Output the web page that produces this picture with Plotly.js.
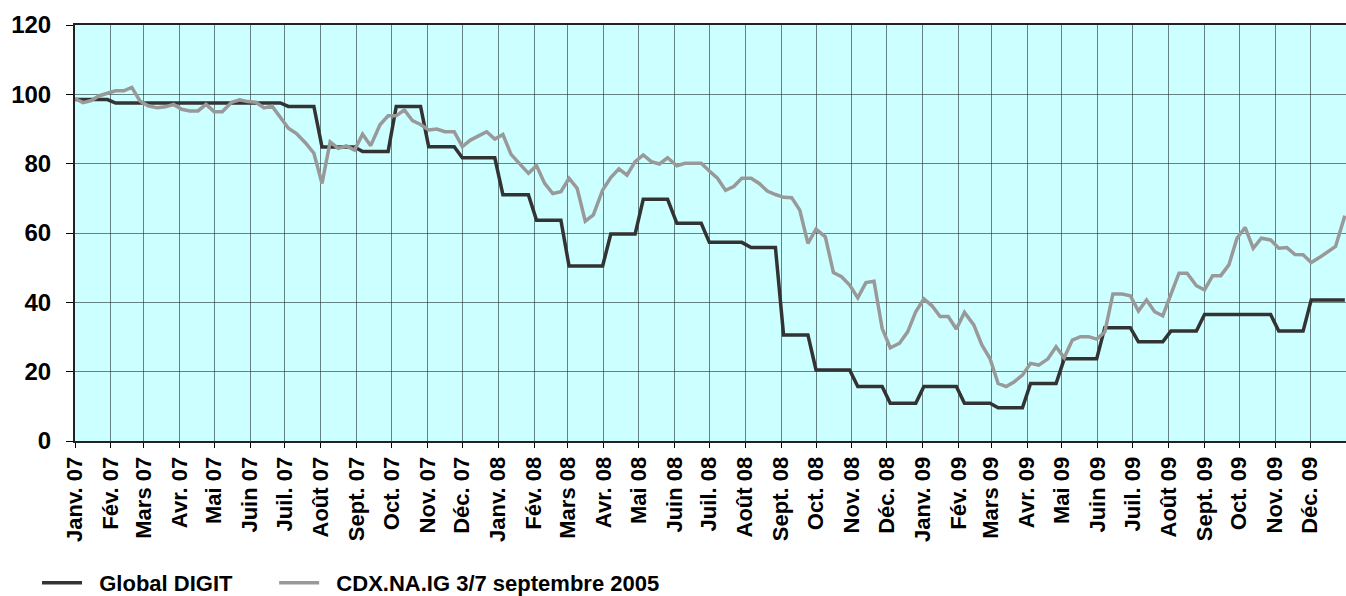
<!DOCTYPE html>
<html>
<head>
<meta charset="utf-8">
<script src="https://cdn.plot.ly/plotly-3.0.1.min.js"></script>
<style>
  html, body { margin: 0; padding: 0; background: #ffffff; }
  #chart { width: 1346px; height: 596px; }
</style>
</head>
<body>
<div id="chart"></div>
<script>
// Month tick labels (month starts Jan 2007 .. Dec 2009)
const monthLabels = [
  "Janv. 07","Fév. 07","Mars 07","Avr. 07","Mai 07","Juin 07","Juil. 07","Août 07","Sept. 07","Oct. 07","Nov. 07","Déc. 07",
  "Janv. 08","Fév. 08","Mars 08","Avr. 08","Mai 08","Juin 08","Juil. 08","Août 08","Sept. 08","Oct. 08","Nov. 08","Déc. 08",
  "Janv. 09","Fév. 09","Mars 09","Avr. 09","Mai 09","Juin 09","Juil. 09","Août 09","Sept. 09","Oct. 09","Nov. 09","Déc. 09"
];
const monthStarts = [
  "2007-01-01","2007-02-01","2007-03-01","2007-04-01","2007-05-01","2007-06-01","2007-07-01","2007-08-01","2007-09-01","2007-10-01","2007-11-01","2007-12-01",
  "2008-01-01","2008-02-01","2008-03-01","2008-04-01","2008-05-01","2008-06-01","2008-07-01","2008-08-01","2008-09-01","2008-10-01","2008-11-01","2008-12-01",
  "2009-01-01","2009-02-01","2009-03-01","2009-04-01","2009-05-01","2009-06-01","2009-07-01","2009-08-01","2009-09-01","2009-10-01","2009-11-01","2009-12-01"
];
const yTicks = [0, 20, 40, 60, 80, 100, 120];

// Global DIGIT: one level per month
const digitMonthly = [
  98.5, 97.5, 97.5, 97.5, 97.5, 97.5, 96.5, 84.8, 83.5, 96.5, 84.9, 81.7,
  71.0, 63.7, 50.5, 59.7, 69.7, 62.8, 57.3, 55.8, 30.6, 20.5, 15.7, 10.9,
  15.7, 10.9, 9.6, 16.6, 23.7, 32.7, 28.6, 31.7, 36.5, 36.5, 31.7, 40.7
];

// CDX.NA.IG 3/7 septembre 2005: weekly observations, Jan 2007 .. Dec 2009
const cdxWeekly = [
  98.8, 97.6, 98.2, 99.6, 100.3, 101.0, 101.0, 102.0, 98.1, 96.7,
  96.1, 96.4, 97.1, 95.7, 95.2, 95.2, 97.1, 95.0, 95.0, 97.7,
  98.4, 97.9, 97.7, 96.1, 96.6, 93.6, 90.2, 88.7, 85.9, 83.0,
  74.3, 86.3, 84.4, 85.1, 83.9, 88.5, 85.2, 91.2, 93.8, 93.8,
  95.5, 92.4, 91.3, 89.7, 90.0, 89.2, 89.2, 84.9, 86.8, 88.0,
  89.2, 87.1, 88.4, 82.7, 80.1, 77.2, 79.4, 74.3, 71.4, 71.9,
  75.8, 72.9, 63.4, 65.2, 72.4, 76.0, 78.5, 76.7, 80.6, 82.5,
  80.6, 79.9, 81.7, 79.4, 80.1, 80.1, 80.1, 77.9, 75.8, 72.3,
  73.4, 75.8, 75.8, 74.3, 72.1, 71.1, 70.3, 70.2, 66.6, 57.0,
  61.1, 58.9, 48.6, 47.4, 45.0, 41.3, 45.7, 46.1, 32.5, 26.9,
  28.2, 31.5, 37.3, 41.0, 39.0, 35.9, 35.9, 32.3, 37.1, 33.5,
  27.7, 23.8, 16.6, 15.7, 17.1, 19.0, 22.4, 21.9, 23.7, 27.2,
  24.0, 29.1, 30.1, 30.1, 29.4, 31.4, 42.4, 42.4, 41.9, 37.5,
  40.7, 37.3, 36.1, 42.3, 48.4, 48.4, 44.8, 43.6, 47.7, 47.7,
  50.8, 58.5, 61.6, 55.6, 58.5, 58.0, 55.6, 55.8, 53.8, 53.7,
  51.5, 52.9, 54.6, 56.1, 65.0
];

const periodStart = "2007-01-01";
const periodEnd = "2009-12-31";

// observation dates, evenly spaced over the period
const t0 = Date.parse(periodStart + "T00:00:00Z");
const t1 = Date.parse(periodEnd + "T00:00:00Z");
const obsDates = cdxWeekly.map((_, i) => {
  const t = t0 + (t1 - t0) * i / (cdxWeekly.length - 1);
  return new Date(t).toISOString().slice(0, 10);
});
// DIGIT level at each observation date (its month's value)
const digitSeries = obsDates.map(d => {
  const y = parseInt(d.slice(0, 4), 10), m = parseInt(d.slice(5, 7), 10);
  return digitMonthly[(y - 2007) * 12 + (m - 1)];
});

const font = "Liberation Sans, Arial, sans-serif";
const b = s => "<b>" + s + "</b>";
const nb = "\u00a0";

const traces = [
  {
    x: obsDates, y: digitSeries, type: "scatter", mode: "lines",
    name: b(nb + nb + "Global DIGIT" + nb.repeat(6)),
    line: { color: "#333333", width: 3.5 }
  },
  {
    x: obsDates, y: cdxWeekly, type: "scatter", mode: "lines",
    name: b(nb + nb + "CDX.NA.IG 3/7 septembre 2005"),
    line: { color: "#999999", width: 3.5 }
  }
];

const layout = {
  width: 1346, height: 596,
  margin: { l: 75, r: 0, t: 25, b: 155 },
  paper_bgcolor: "#ffffff",
  plot_bgcolor: "#ccffff",
  showlegend: true,
  legend: {
    orientation: "h",
    xref: "container", yref: "container",
    x: 0.0275, y: 0.022, xanchor: "left", yanchor: "middle",
    font: { family: font, size: 22, color: "#000000" },
    itemwidth: 40, tracegroupgap: 0,
    bgcolor: "rgba(0,0,0,0)"
  },
  xaxis: {
    type: "date",
    range: [periodStart, "2010-01-01"],
    tickmode: "array",
    tickvals: monthStarts,
    ticktext: monthLabels.map(b),
    tickangle: -90,
    tickfont: { family: font, size: 22, color: "#000000" },
    showgrid: true,
    gridcolor: "rgba(30,50,50,0.6)",
    gridwidth: 1,
    ticks: "outside", ticklen: 5, tickcolor: "#000000",
    showline: true, linecolor: "#222222", linewidth: 2, mirror: true,
    zeroline: false,
    fixedrange: true
  },
  yaxis: {
    range: [0, 120],
    tickmode: "array",
    tickvals: yTicks,
    ticktext: yTicks.map(v => b(String(v))),
    tickfont: { family: font, size: 24, color: "#000000" },
    ticklabelstandoff: 10,
    showgrid: true,
    gridcolor: "rgba(30,50,50,0.6)",
    gridwidth: 1,
    ticks: "outside", ticklen: 7, tickcolor: "#000000",
    showline: true, linecolor: "#222222", linewidth: 2, mirror: false,
    zeroline: false,
    fixedrange: true
  }
};

Plotly.newPlot("chart", traces, layout, { displayModeBar: false, staticPlot: true });
</script>
</body>
</html>
